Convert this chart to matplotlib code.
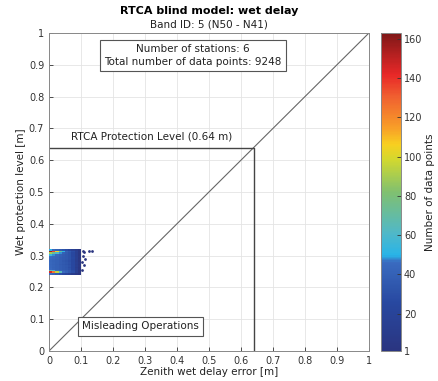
import numpy as np
import matplotlib
matplotlib.use('Agg')
from matplotlib import pyplot as plt
from matplotlib.colors import LinearSegmentedColormap

# 2D histogram of (wet delay error, wet protection level), counts per cell
x_edges = [0.0, 0.01, 0.02, 0.03, 0.04, 0.05, 0.06, 0.07, 0.08, 0.09, 0.10]
y_edges = [0.240, 0.245, 0.250, 0.255, 0.260, 0.265, 0.270, 0.275, 0.280,
           0.285, 0.290, 0.295, 0.300, 0.305, 0.310, 0.315, 0.320]
counts = [
    [45, 40, 35, 30, 25, 20, 15, 10, 5, 1],
    [145, 125, 95, 65, 45, 40, 35, 30, 15, 3],
    [70, 55, 45, 42, 40, 38, 35, 28, 15, 3],
    [45, 42, 40, 38, 36, 35, 32, 25, 14, 4],
    [44, 41, 40, 38, 36, 34, 30, 24, 12, 3],
    [44, 42, 40, 38, 36, 35, 32, 25, 14, 5],
    [43, 41, 39, 37, 35, 33, 30, 24, 13, 4],
    [44, 42, 40, 38, 36, 34, 31, 25, 14, 5],
    [43, 41, 40, 38, 35, 33, 30, 24, 13, 4],
    [44, 42, 40, 38, 36, 34, 31, 25, 14, 5],
    [45, 43, 41, 38, 36, 35, 32, 26, 15, 4],
    [46, 44, 42, 39, 37, 35, 32, 25, 14, 5],
    [55, 48, 44, 40, 37, 35, 32, 25, 14, 4],
    [90, 75, 60, 48, 40, 36, 32, 25, 14, 4],
    [155, 135, 105, 75, 50, 40, 35, 28, 16, 4],
    [50, 45, 40, 36, 32, 28, 22, 16, 10, 3],
]
# sparse outliers
out_x = [0.105, 0.11, 0.125, 0.135, 0.105, 0.112, 0.103, 0.108, 0.104]
out_y = [0.315, 0.31, 0.315, 0.315, 0.30, 0.29, 0.28, 0.27, 0.255]

protection_level = 0.64
n_stations = 6
n_points = 9248

cmap = LinearSegmentedColormap.from_list('dens', [
    (0.0, '#2a3580'), (0.15, '#2848a0'), (0.28, '#3a6cc0'), (0.30, '#28b4e8'),
    (0.37, '#50b8c8'), (0.5, '#80c070'), (0.6, '#d0d830'), (0.65, '#f8d020'),
    (0.7, '#f8a028'), (0.8, '#f06030'), (0.87, '#e82828'), (1.0, '#801818')])

fig = plt.figure(figsize=(4.38, 3.81), dpi=100)
ax = fig.add_axes([0.112, 0.079, 0.730, 0.834])
cax = fig.add_axes([0.870, 0.079, 0.046, 0.834])

grey = '#555555'
cnt = np.ma.masked_less(np.array(counts, dtype=float), 1)
mesh = ax.pcolormesh(x_edges, y_edges, cnt, cmap=cmap, vmin=1, vmax=163, zorder=3)
ax.scatter(out_x, out_y, s=4, color='#2a3580', zorder=3, linewidths=0)

ax.plot([0, 1], [0, 1], color='#666666', lw=0.8, zorder=2)
ax.plot([0, protection_level, protection_level], [protection_level, protection_level, 0],
        color='#444444', lw=1.0, zorder=2)

ax.text(0.07, 0.665, 'RTCA Protection Level (0.64 m)', fontsize=7.5, color='#222222')
ax.text(0.285, 0.077, 'Misleading Operations', fontsize=7.5, ha='center', va='center',
        color='#222222', bbox=dict(boxstyle='square,pad=0.4', fc='white', ec=grey, lw=0.8))
ax.text(0.45, 0.93, 'Number of stations: %d\nTotal number of data points: %d' % (n_stations, n_points),
        fontsize=7.5, ha='center', va='center', color='#222222', linespacing=1.3,
        bbox=dict(boxstyle='square,pad=0.4', fc='white', ec=grey, lw=0.8))

ax.set_xlim(0, 1)
ax.set_ylim(0, 1)
ticks = np.arange(0, 1.01, 0.1)
ax.set_xticks(ticks)
ax.set_yticks(ticks)
ax.set_xticklabels(['0'] + ['%.1f' % t for t in ticks[1:-1]] + ['1'])
ax.set_yticklabels(['0'] + ['%.1f' % t for t in ticks[1:-1]] + ['1'])
ax.grid(True, color='#e4e4e4', lw=0.6, zorder=0)
ax.set_axisbelow(True)
ax.tick_params(direction='in', length=3, labelsize=7, colors='#333333', width=0.6)
for s in ax.spines.values():
    s.set_color('#888888')
    s.set_linewidth(0.7)
ax.set_xlabel('Zenith wet delay error [m]', fontsize=7.5, color='#222222', labelpad=1)
ax.set_ylabel('Wet protection level [m]', fontsize=7.5, color='#222222', labelpad=2)
ax.set_title('RTCA blind model: wet delay', fontsize=8, fontweight='bold', pad=14)
ax.text(0.5, 1.012, 'Band ID: 5 (N50 - N41)', transform=ax.transAxes, ha='center',
        va='bottom', fontsize=7.5, color='#222222')

cb = fig.colorbar(mesh, cax=cax, ticks=[1, 20, 40, 60, 80, 100, 120, 140, 160])
cb.set_label('Number of data points', fontsize=7.5, color='#222222', labelpad=2)
cb.ax.tick_params(labelsize=7, direction='in', length=3, colors='#333333', width=0.6, pad=2)
cb.outline.set_edgecolor('#888888')
cb.outline.set_linewidth(0.7)

fig.savefig('out.png', dpi=100)
